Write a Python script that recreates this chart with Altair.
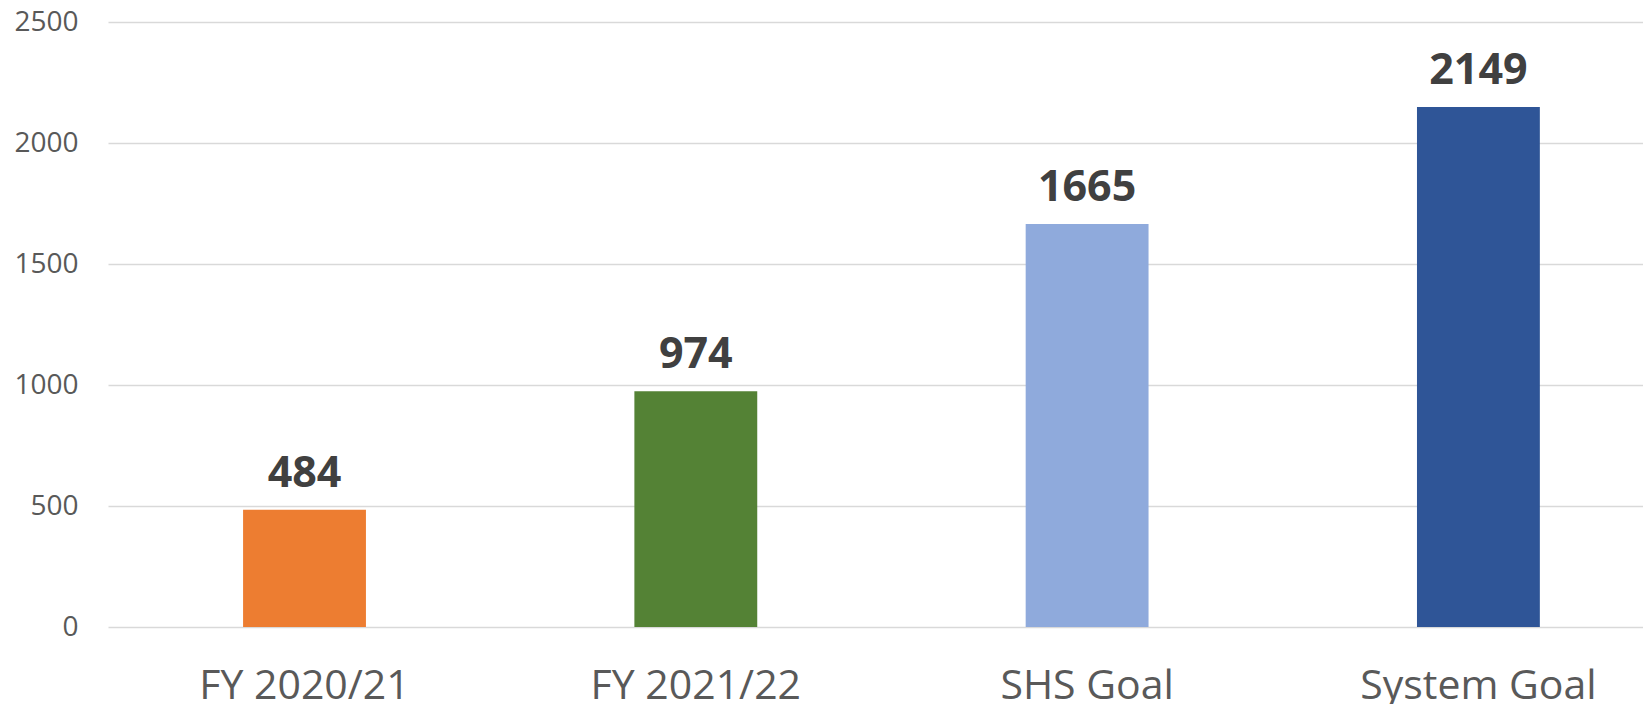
import altair as alt
import pandas as pd

categories = ["FY 2020/21", "FY 2021/22", "SHS Goal", "System Goal"]
values = [484, 974, 1665, 2149]
colors = ["#ED7D31", "#548235", "#8FAADC", "#2F5597"]
y_ticks = [0, 500, 1000, 1500, 2000, 2500]

df = pd.DataFrame({"cat": categories, "val": values})

x = alt.X("cat:N", sort=categories, title=None,
          scale=alt.Scale(paddingInner=0.686, paddingOuter=0.3044, align=0.567),
          axis=alt.Axis(labelAngle=0, labelFont="Open Sans", labelFontSize=41,
                        labelColor="#595959", labelPadding=39, ticks=False,
                        labelLimit=0, domain=False, grid=False))
y = alt.Y("val:Q", title=None,
          scale=alt.Scale(domain=[0, 2500], nice=False),
          axis=alt.Axis(values=y_ticks, format="d", labelFont="Open Sans", labelFontSize=28,
                        labelColor="#595959", labelPadding=30, ticks=False,
                        domain=False, grid=True, gridColor="#d9d9d9", gridWidth=1.5))

bars = alt.Chart(df).mark_bar().encode(
    x=x, y=y,
    color=alt.Color("cat:N", scale=alt.Scale(domain=categories, range=colors), legend=None),
)
text = alt.Chart(df).mark_text(
    font="Open Sans", fontSize=43, fontWeight="bold", color="#404040",
    baseline="alphabetic", dy=-23,
).encode(x=alt.X("cat:N", sort=categories), y="val:Q", text="val:Q")

chart = alt.layer(bars, text).properties(
    width=1535, height=605,
    background="white",
    autosize=alt.AutoSizeParams(type="none"),
    padding={"left": 100, "top": 14, "right": 0, "bottom": 77},
).configure_view(stroke=None)

chart.save("out.html", embed_options={"renderer": "svg", "actions": False})
